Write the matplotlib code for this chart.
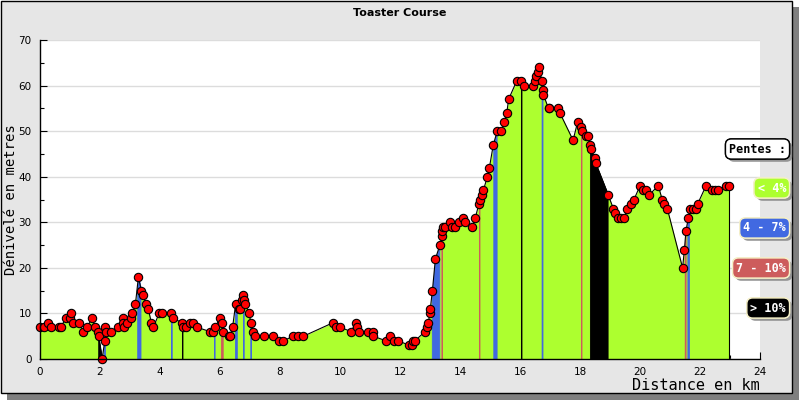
import matplotlib
matplotlib.use('Agg')
import matplotlib.pyplot as plt
import matplotlib.patheffects as pe
from matplotlib.patches import Rectangle
import numpy as np

# Profil : distance (km) et altitude relative (m)
dist = [0.00, 0.14, 0.28, 0.38, 0.64, 0.69, 0.87, 1.00, 1.04, 1.11, 1.31, 1.44, 1.58,
        1.73, 1.84, 1.94, 1.95, 2.07, 2.16, 2.18, 2.20, 2.38, 2.61, 2.77, 2.78, 2.80,
        2.91, 3.03, 3.08, 3.18, 3.28, 3.38, 3.44, 3.53, 3.61, 3.71, 3.78, 3.97, 4.08,
        4.37, 4.43, 4.72, 4.76, 4.87, 5.00, 5.10, 5.22, 5.67, 5.78, 5.84, 6.00, 6.05,
        6.11, 6.29, 6.34, 6.42, 6.52, 6.63, 6.67, 6.74, 6.78, 6.80, 6.84, 6.98, 7.02,
        7.09, 7.18, 7.47, 7.78, 7.98, 8.11, 8.44, 8.61, 8.78, 9.78, 9.87, 10.00, 10.37,
        10.53, 10.58, 10.64, 10.94, 11.09, 11.11, 11.53, 11.67, 11.80, 11.94, 12.31,
        12.39, 12.44, 12.50, 12.83, 12.89, 12.94, 13.00, 13.01, 13.08, 13.18, 13.33,
        13.40, 13.41, 13.44, 13.51, 13.67, 13.72, 13.84, 13.98, 14.11, 14.17, 14.41,
        14.51, 14.63, 14.67, 14.72, 14.78, 14.91, 14.98, 15.11, 15.24, 15.37, 15.47,
        15.56, 15.62, 15.89, 16.02, 16.13, 16.44, 16.50, 16.53, 16.61, 16.64, 16.72,
        16.75, 16.78, 16.95, 16.98, 17.28, 17.33, 17.77, 17.92, 18.02, 18.08, 18.20,
        18.25, 18.33, 18.36, 18.50, 18.52, 18.94, 19.11, 19.17, 19.28, 19.36, 19.47,
        19.58, 19.70, 19.80, 20.00, 20.11, 20.19, 20.30, 20.61, 20.74, 20.81, 20.91,
        21.42, 21.48, 21.53, 21.61, 21.67, 21.76, 21.87, 21.92, 22.20, 22.39, 22.50,
        22.61, 22.86, 22.98]
elev = [7, 7, 8, 7, 7, 7, 9, 9, 10, 8, 8, 6, 7,
        9, 7, 6, 5, 0, 4, 7, 6, 6, 7, 9, 8, 7,
        8, 9, 10, 12, 18, 15, 14, 12, 11, 8, 7, 10, 10,
        10, 9, 8, 7, 7, 8, 8, 7, 6, 6, 7, 9, 8,
        6, 5, 5, 7, 12, 11, 11, 13, 14, 13, 12, 10, 8,
        6, 5, 5, 5, 4, 4, 5, 5, 5, 8, 7, 7, 6,
        8, 7, 6, 6, 6, 5, 4, 5, 4, 4, 3,
        3, 4, 4, 6, 7, 8, 10, 11, 15, 22, 25,
        27, 28, 29, 29, 30, 29, 29, 30, 31, 30, 29,
        31, 34, 35, 36, 37, 40, 42, 47, 50, 50, 52,
        54, 57, 61, 61, 60, 60, 61, 62, 63, 64, 61,
        59, 58, 55, 55, 55, 54, 48, 52, 51, 50, 49,
        49, 47, 46, 44, 43, 36, 33, 32, 31, 31, 31,
        33, 34, 35, 38, 37, 37, 36, 38, 35, 34, 33,
        20, 24, 28, 31, 33, 33, 33, 34, 38, 37, 37,
        37, 38, 38]

# Tronçons pentus : début (km), fin (km), classe de pente
strip_start = [1.94, 2.12, 3.24, 4.37, 4.73, 5.80, 6.03, 6.50, 6.77, 7.01, 13.06, 13.38,
               14.63, 15.11, 16.03, 16.72, 18.03, 18.33, 21.49, 21.58]
strip_end = [2.06, 2.17, 3.35, 4.39, 4.75, 5.82, 6.09, 6.56, 6.79, 7.03, 13.31, 13.40,
             14.65, 15.22, 16.05, 16.75, 18.05, 18.92, 21.52, 21.63]
strip_class = ['> 10%', '4 - 7%', '4 - 7%', '4 - 7%', '> 10%', '4 - 7%', '7 - 10%',
               '4 - 7%', '4 - 7%', '4 - 7%', '4 - 7%', '7 - 10%', '7 - 10%', '4 - 7%',
               '> 10%', '4 - 7%', '7 - 10%', '> 10%', '7 - 10%', '4 - 7%']

classes = ['< 4%', '4 - 7%', '7 - 10%', '> 10%']
class_colors = {'< 4%': '#adff2f', '4 - 7%': '#4169e1', '7 - 10%': '#cd5c5c', '> 10%': '#000000'}

fig = plt.figure(figsize=(8, 4), dpi=100)
fig.patch.set_facecolor('white')

# cadre gris avec ombre
fig.patches.append(Rectangle((7 / 800, 0), 792 / 800, 393 / 400, transform=fig.transFigure,
                             facecolor='#7f7f7f', edgecolor='none', zorder=-3))
fig.patches.append(Rectangle((0.5 / 800, 7 / 400), 791 / 800, 392.5 / 400, transform=fig.transFigure,
                             facecolor='#e6e6e6', edgecolor='black', lw=1, zorder=-2))

ax = fig.add_axes([40 / 800, 41 / 400, 720 / 800, 319 / 400])
ax.set_facecolor('white')

d = np.array(dist)
e = np.array(elev)
ax.fill_between(d, 0, e, color=class_colors['< 4%'], lw=0, zorder=2)
for x0, x1, c in zip(strip_start, strip_end, strip_class):
    xs = [x0] + [x for x in dist if x0 < x < x1] + [x1]
    ys = np.interp(xs, d, e)
    ax.fill_between(xs, 0, ys, facecolor=class_colors[c], edgecolor=class_colors[c], lw=0.6, zorder=3)
ax.plot(d, e, color='black', lw=0.8, zorder=4)
ax.vlines(d[-1], 0, e[-1], color='black', lw=0.8, zorder=4)
ax.plot(d, e, 'o', ms=6, mfc='#ff0000', mec='black', mew=0.8, zorder=5, clip_on=False)

ax.set_xlim(0, 24)
ax.set_ylim(0, 70)
ax.set_xticks(np.arange(0, 25, 2))
ax.set_xticks(np.arange(0, 25, 1), minor=True)
ax.set_yticks(np.arange(0, 71, 10))
ax.set_yticks(np.arange(0, 71, 5), minor=True)
ax.grid(axis='y', which='major', color='#dcdcdc', lw=1, zorder=0)
ax.set_axisbelow(True)
for s in ['top', 'right']:
    ax.spines[s].set_visible(False)
for s in ['left', 'bottom']:
    ax.spines[s].set_color('black')
    ax.spines[s].set_linewidth(1)
    ax.spines[s].set_zorder(6)
ax.tick_params(which='major', direction='in', length=5, width=0.8, labelsize=7.5, pad=6)
ax.tick_params(which='minor', direction='in', length=3, width=0.8)

fig.text(0.5, 1 - 13 / 400, 'Toaster Course', ha='center', va='center',
         fontsize=8, fontweight='bold', family='DejaVu Sans')
fig.text(11 / 800, 0.5, 'Dénivelé en metres', rotation=90, ha='center', va='center',
         fontsize=10, family='DejaVu Sans Mono')
fig.text(760 / 800, 1 - 385 / 400, 'Distance en km', ha='right', va='center',
         fontsize=11, family='DejaVu Sans Mono')

# légende des pentes
shadow = [pe.withSimplePatchShadow(offset=(2, -2), shadow_rgbFace='#808080', alpha=0.8), pe.Normal()]
t = fig.text(786 / 800, 1 - 149 / 400, 'Pentes :', ha='right', va='center', fontsize=8.5,
             fontweight='bold', family='DejaVu Sans Mono', color='black',
             bbox=dict(boxstyle='round,pad=0.3,rounding_size=0.5', fc='white', ec='black', lw=1))
t.get_bbox_patch().set_path_effects(shadow)
legend_y = [188, 228, 268, 308]
for lab, yy in zip(classes, legend_y):
    t = fig.text(786 / 800, 1 - yy / 400, lab, ha='right', va='center', fontsize=8.5,
                 fontweight='bold', family='DejaVu Sans Mono', color='white',
                 bbox=dict(boxstyle='round,pad=0.3,rounding_size=0.5', fc=class_colors[lab],
                           ec='#f5f0c8', lw=1))
    t.get_bbox_patch().set_path_effects(shadow)

fig.savefig('out.png', dpi=100)
